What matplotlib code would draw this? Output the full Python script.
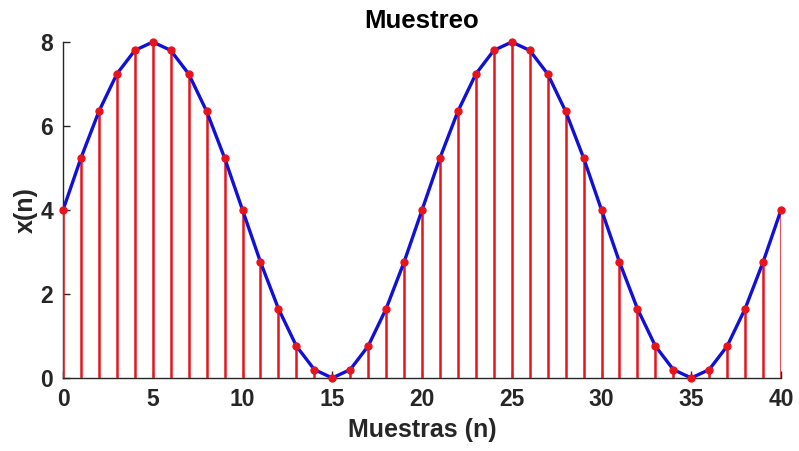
import numpy as np
import matplotlib.pyplot as plt

plt.rcParams['font.family'] = ['Liberation Sans', 'DejaVu Sans']

# muestras n = 0..40
n = list(range(0, 41))
xn = [4.00, 5.24, 6.35, 7.24, 7.80, 8.00, 7.80, 7.24, 6.35, 5.24,
      4.00, 2.76, 1.65, 0.76, 0.20, 0.00, 0.20, 0.76, 1.65, 2.76,
      4.00, 5.24, 6.35, 7.24, 7.80, 8.00, 7.80, 7.24, 6.35, 5.24,
      4.00, 2.76, 1.65, 0.76, 0.20, 0.00, 0.20, 0.76, 1.65, 2.76,
      4.00]
xticks = [0, 5, 10, 15, 20, 25, 30, 35, 40]
yticks = [0, 2, 4, 6, 8]

gris = '#262626'

fig = plt.figure(figsize=(7.99, 4.51), dpi=100)
ax = fig.add_axes([0.0789, 0.1619, 0.8986, 0.745])

ax.vlines(n, 0, xn, color='#e8141c', linewidth=1.8, zorder=2)
ax.plot(n, xn, color='#1010d8', linewidth=2.4, zorder=3)
ax.plot(n, xn, 'o', color='#e8141c', markersize=5, zorder=4, clip_on=False)

ax.set_xlim(0, 40)
ax.set_ylim(0, 8)
ax.set_xticks(xticks)
ax.set_yticks(yticks)

for s in ['top', 'right']:
    ax.spines[s].set_visible(False)
for s in ['left', 'bottom']:
    ax.spines[s].set_color(gris)
    ax.spines[s].set_linewidth(1.0)
    ax.spines[s].set_zorder(1)

ax.tick_params(direction='in', length=5, width=1, colors=gris, labelsize=16.5, pad=7)
for lab in ax.get_xticklabels() + ax.get_yticklabels():
    lab.set_fontweight('bold')

ax.set_xlabel('Muestras (n)', fontsize=18, fontweight='bold', color=gris, labelpad=5)
ax.set_ylabel('x(n)', fontsize=18, fontweight='bold', color=gris, labelpad=2)
ax.set_title('Muestreo', fontsize=18.5, fontweight='bold', color='black', pad=10)

fig.savefig('out.png', dpi=100)
